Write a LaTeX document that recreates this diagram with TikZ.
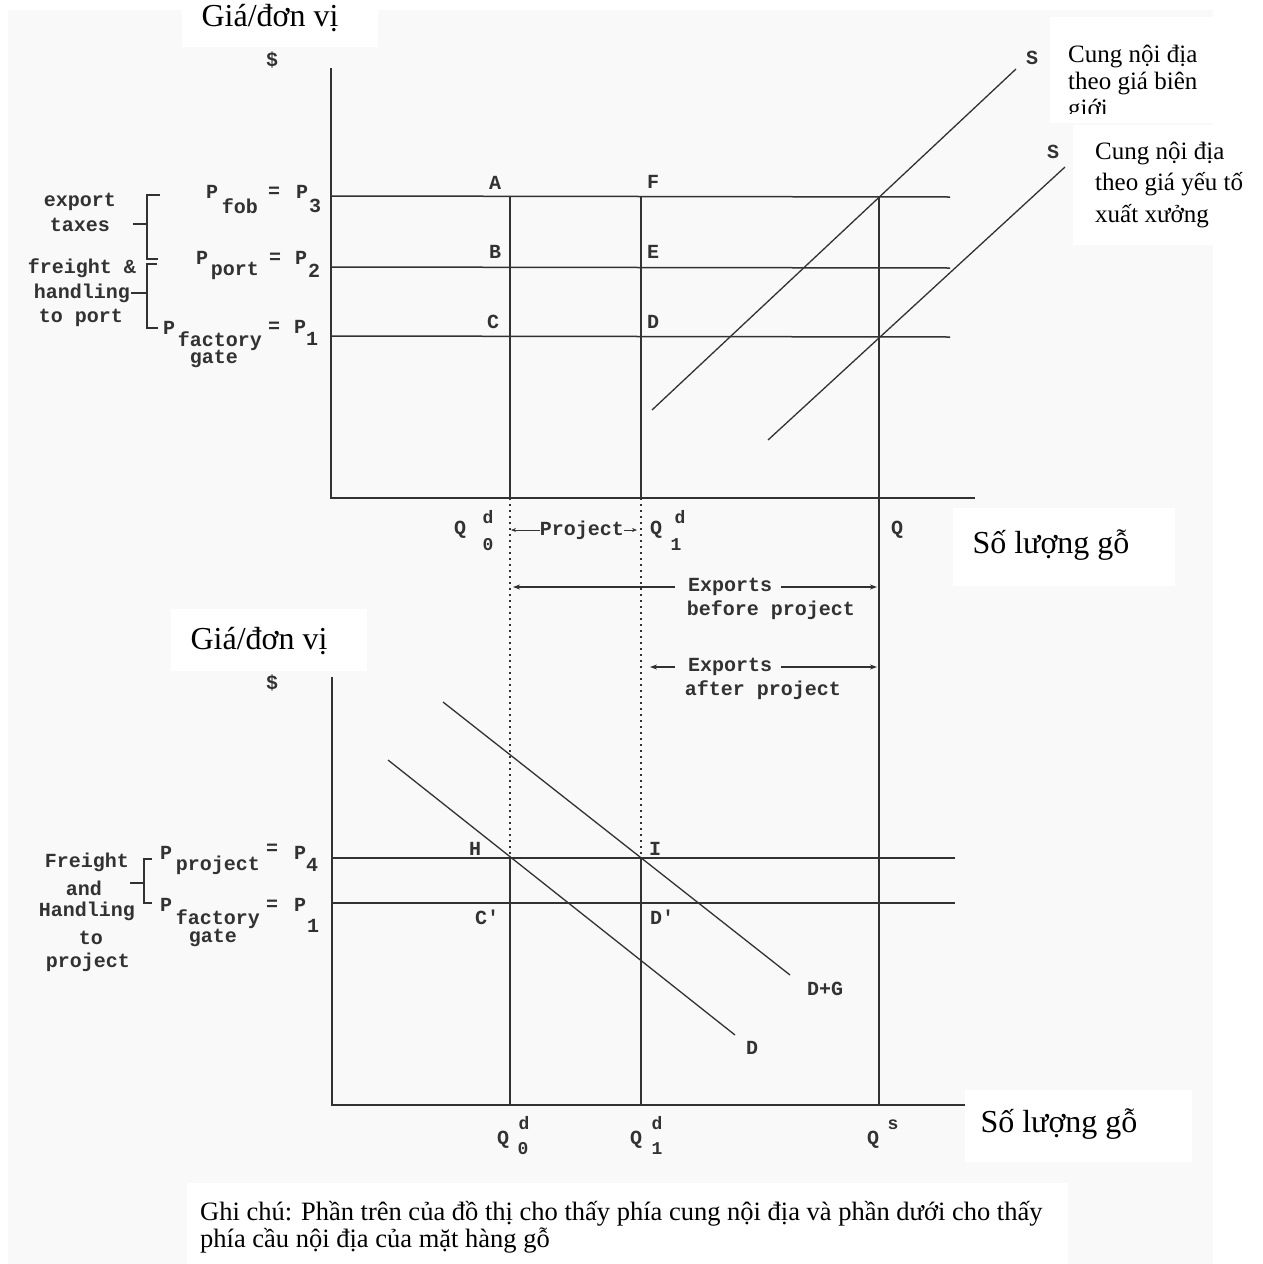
\documentclass[tikz,border=0pt]{standalone}
\usepackage{fontspec}
\setmainfont{Liberation Serif}
\newfontfamily\scanfont{Liberation Mono}
\usetikzlibrary{arrows.meta}
\definecolor{scanbg}{RGB}{249,249,249}
\definecolor{ink}{RGB}{50,50,50}
\newcommand\labfont{\scanfont\bfseries\fontsize{20}{22}\selectfont}
\newcommand\sublabfont{\scanfont\bfseries\fontsize{18}{20}\selectfont}
\begin{document}
\begin{tikzpicture}[x=1pt,y=-1pt,
  ln/.style={draw=ink,line width=1.5pt},
  dotln/.style={draw=ink,line width=2pt,dash pattern=on 2pt off 4pt},
  arr/.style={draw=ink,line width=1.1pt,-{Stealth[length=7pt,width=5pt]}},
  lab/.style={font=\labfont,text=ink,inner sep=0pt},
  sublab/.style={font=\sublabfont,text=ink,inner sep=0pt},
  vt/.style={font=\fontsize{32}{36}\selectfont,inner sep=0pt,text=black},
  vs/.style={font=\fontsize{25}{27.3}\selectfont,inner sep=0pt,align=left,text=black},
  note/.style={font=\fontsize{26.5}{27}\selectfont,inner sep=0pt,align=left,text=black}]
\useasboundingbox (0,0) rectangle (1263,1264);
% background
\fill[white] (0,0) rectangle (1263,1264);
\fill[scanbg] (8,10) rectangle (1213,1264);
\fill[white] (182,0) rectangle (378,47);
\fill[white] (1050,17) rectangle (1213,123);
\fill[white] (1073,125) rectangle (1213,245);
\fill[white] (953,508) rectangle (1175,586);
\fill[white] (171,609) rectangle (367,671);
\fill[white] (965,1090) rectangle (1192,1162);
\fill[white] (187,1183) rectangle (1068,1264);

% ---------- upper graph ----------
\coordinate (uy) at (331,68);
\coordinate (uo) at (331,498);
\coordinate (ux) at (975,498);
\draw[ln] (uy) -- (uo) -- (ux);
\coordinate (p3a) at (331,196); \coordinate (p3b) at (950,197);
\coordinate (p2a) at (331,267); \coordinate (p2b) at (950,268);
\coordinate (p1a) at (331,336); \coordinate (p1b) at (950,337);
\draw[ln] (p3a) -- (p3b);
\draw[ln] (p2a) -- (p2b);
\draw[ln] (p1a) -- (p1b);
% verticals
\coordinate (Apt) at (510,196); \coordinate (q0u) at (510,498);
\coordinate (Hpt) at (510,858); \coordinate (q0l) at (510,1105);
\coordinate (Fpt) at (641,196); \coordinate (q1u) at (641,498);
\coordinate (Ipt) at (641,858); \coordinate (q1l) at (641,1105);
\coordinate (Qst) at (879,196); \coordinate (Qsl) at (879,1105);
\draw[ln] (Apt) -- (q0u);
\draw[dotln] (q0u) -- (Hpt);
\draw[ln] (Hpt) -- (q0l);
\draw[ln] (Fpt) -- (q1u);
\draw[dotln] (q1u) -- (Ipt);
\draw[ln] (Ipt) -- (q1l);
\draw[ln] (Qst) -- (Qsl);
% supply curves
\coordinate (s1a) at (652,410); \coordinate (s1b) at (1016,69);
\coordinate (s2a) at (768,440); \coordinate (s2b) at (1065,167);
\draw[ln,line width=1.3pt] (s1a) -- (s1b);
\draw[ln,line width=1.3pt] (s2a) -- (s2b);
\node[lab] (S1) at (1032,58) {S};
\node[lab] (S2) at (1053,152) {S};
% point letters
\node[lab] (lA) at (495,183) {A};
\node[lab] (lF) at (653,182) {F};
\node[lab] (lB) at (495,252) {B};
\node[lab] (lE) at (653,252) {E};
\node[lab] (lC) at (493,322) {C};
\node[lab] (lD) at (653,322) {D};
% price labels
\node[lab] (dol1) at (272,60) {\$};
\node[lab] (pf1) at (212,192) {P};
\node[lab] (pf2) at (240,206) {fob};
\node[lab] (pf3) at (274,192) {=};
\node[lab] (pf4) at (302,192) {P};
\node[lab] (pf5) at (315,206) {3};
\node[lab] (pp1) at (202,258) {P};
\node[lab] (pp2) at (235,271) {port};
\node[lab] (pp3) at (275,258) {=};
\node[lab] (pp4) at (301,258) {P};
\node[lab] (pp5) at (314,271) {2};
\node[lab] (pg1) at (169,328) {P};
\node[lab,text depth=0pt] (pg2) at (220,339) {factory};
\node[lab,text height=10pt] (pg3) at (214,361) {gate};
\node[lab] (pg4) at (274,327) {=};
\node[lab] (pg5) at (300,327) {P};
\node[lab] (pg6) at (312,339) {1};
% brackets
\draw[ink,line width=1.2pt] (160,195) -- (147,195) -- (147,259) -- (158,259);
\draw[ink,line width=1.2pt] (147,224) -- (133,224);
\draw[ink,line width=1.2pt] (157,264) -- (147,264) -- (147,328) -- (158,328);
\draw[ink,line width=1.2pt] (147,293) -- (131,293);
\node[lab] (et1) at (80,202) {export};
\node[lab] (et2) at (80,225) {taxes};
\node[lab] (fh1) at (82,268) {freight \&};
\node[lab] (fh2) at (82,293) {handling};
\node[lab] (fh3) at (81,318) {to port};
% axis labels
\node[lab] (q0q) at (460,530) {Q};
\node[sublab] (q0d) at (488,517) {d};
\node[sublab] (q0s) at (488,545) {0};
\node[lab] (q1q) at (656,530) {Q};
\node[sublab] (q1d) at (680,517) {d};
\node[sublab] (q1s) at (676,545) {1};
\node[lab] (qq) at (897,530) {Q};
\node[lab] (proj) at (582,530) {Project};
\coordinate (pjl) at (511,530);
\coordinate (pjr) at (637,530);
\draw[arr,line width=0.9pt,-{Stealth[length=5pt,width=4pt]}] (proj.west) -- (pjl);
\draw[arr,line width=0.9pt,-{Stealth[length=5pt,width=4pt]}] (proj.east) -- (pjr);
\node[lab] (exb) at (730,587) {Exports};
\node[lab] (exb2) at (771,610) {before project};
\coordinate (ebl) at (513,587); \coordinate (ebr) at (877,587);
\draw[arr] ([xshift=-13pt]exb.west) -- (ebl);
\draw[arr] ([xshift=9pt]exb.east) -- (ebr);
\node[lab] (exa) at (730,667) {Exports};
\node[lab] (exa2) at (763,690) {after project};
\coordinate (eal) at (650,667); \coordinate (ear) at (877,667);
\draw[arr] ([xshift=-13pt]exa.west) -- (eal);
\draw[arr] ([xshift=9pt]exa.east) -- (ear);

% ---------- lower graph ----------
\coordinate (ly) at (332,677);
\coordinate (lo) at (332,1105);
\coordinate (lx) at (965,1105);
\draw[ln] (ly) -- (lo) -- (lx);
\coordinate (p4a) at (332,858); \coordinate (p4b) at (955,858);
\coordinate (p1la) at (332,903); \coordinate (p1lb) at (955,903);
\draw[ln] (p4a) -- (p4b);
\draw[ln] (p1la) -- (p1lb);
\coordinate (da) at (388,760); \coordinate (db) at (735,1035);
\coordinate (dga) at (443,702); \coordinate (dgb) at (790,975);
\draw[ln,line width=1.3pt] (da) -- (db);
\draw[ln,line width=1.3pt] (dga) -- (dgb);
\node[lab] (lH) at (475,849) {H};
\node[lab] (lI) at (655,849) {I};
\node[lab] (lCp) at (487,917) {C'};
\node[lab] (lDp) at (662,917) {D'};
\node[lab] (lDG) at (825,989) {D+G};
\node[lab] (lDD) at (752,1048) {D};
\node[lab] (dol2) at (272,683) {\$};
\node[lab] (pj1) at (166,853) {P};
\node[lab] (pj2) at (218,865) {project};
\node[lab] (pj3) at (272,849) {=};
\node[lab] (pj4) at (300,853) {P};
\node[lab] (pj5) at (312,865) {4};
\node[lab] (pl1) at (166,905) {P};
\node[lab,text depth=0pt] (pl2) at (218,917) {factory};
\node[lab,text height=10pt] (pl3) at (213,940) {gate};
\node[lab] (pl4) at (272,905) {=};
\node[lab] (pl5) at (300,905) {P};
\node[lab] (pl6) at (313,926) {1};
\draw[ink,line width=1.2pt] (152,859) -- (144,859) -- (144,903) -- (152,903);
\draw[ink,line width=1.2pt] (144,883) -- (130,883);
\node[lab] (fr1) at (87,862) {Freight};
\node[lab] (fr2) at (84,888) {and};
\node[lab] (fr3) at (87,911) {Handling};
\node[lab] (fr4) at (91,938) {to};
\node[lab] (fr5) at (88,962) {project};
\node[lab] (b0q) at (503,1140) {Q};
\node[sublab] (b0d) at (524,1123) {d};
\node[sublab] (b0s) at (523,1149) {0};
\node[lab] (b1q) at (636,1140) {Q};
\node[sublab] (b1d) at (657,1123) {d};
\node[sublab] (b1s) at (657,1149) {1};
\node[lab] (bsq) at (873,1140) {Q};
\node[sublab] (bss) at (893,1125) {s};

% ---------- Vietnamese texts ----------
\node[vt,anchor=base] (gia1) at (270,26) {Giá/đơn vị};
\node[vt,anchor=base] (gia2) at (259,649) {Giá/đơn vị};
\node[vt,anchor=base] (sl1) at (1051,553) {Số lượng gỗ};
\node[vt,anchor=base] (sl2) at (1059,1132) {Số lượng gỗ};
\begin{scope}
\clip (1050,17) rectangle (1213,113);
\node[vs,anchor=base west] (cb) at (1068,116.6) {Cung nội địa\\theo giá biên\\giới};
\end{scope}
\node[vs,anchor=base west,font=\fontsize{25}{31.5}\selectfont] (cx) at (1095,222) {Cung nội địa\\theo giá yếu tố\\xuất xưởng};
\node[note,anchor=base west] (gc) at (200,1247) {Ghi chú: Phần trên của đồ thị cho thấy phía cung nội địa và phần dưới cho thấy\\phía cầu nội địa của mặt hàng gỗ};
\end{tikzpicture}
\end{document}
